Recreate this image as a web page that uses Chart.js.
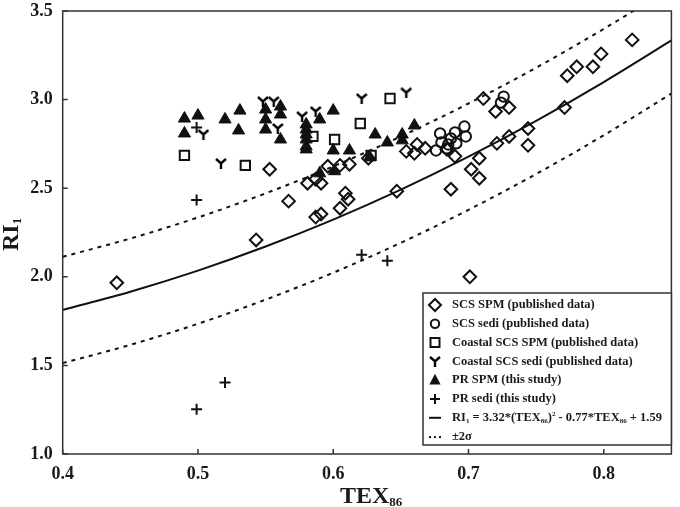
<!DOCTYPE html>
<html><head><meta charset="utf-8">
<script src="https://cdn.jsdelivr.net/npm/chart.js@4/dist/chart.umd.min.js"></script>
<style>html,body{margin:0;padding:0;background:#fff}#wrap{width:680px;height:507px;position:relative}</style>
</head><body><div id="wrap"><canvas id="c" width="680" height="507"></canvas></div>
<script>
// ---- tick values ----
const xTicks = [0.4, 0.5, 0.6, 0.7, 0.8];
const yTicks = [1.0, 1.5, 2.0, 2.5, 3.0, 3.5];

// ---- SCS SPM (published data) ----
const scsSpmX = [0.440,0.543,0.553,0.567,0.581,0.587,0.591,0.587,0.591,0.596,0.605,0.612,0.609,0.611,0.605,0.626,0.647,0.654,0.660,0.662,0.668,0.684,0.690,0.687,0.702,0.708,0.708,0.721,0.730,0.744,0.744,0.771,0.711,0.720,0.730,0.773,0.780,0.792,0.798,0.821,0.701];
const scsSpmY = [1.966,2.208,2.607,2.427,2.528,2.551,2.528,2.337,2.354,2.624,2.629,2.635,2.472,2.438,2.387,2.669,2.483,2.708,2.697,2.747,2.725,2.719,2.680,2.494,2.607,2.556,2.669,2.753,2.792,2.837,2.742,2.955,3.006,2.933,2.955,3.135,3.185,3.185,3.258,3.337,2.000];
// ---- SCS sedi (published data) ----
const scsSediX = [0.679,0.690,0.697,0.698,0.687,0.680,0.691,0.685,0.676,0.684,0.726,0.724];
const scsSediY = [2.809,2.815,2.848,2.792,2.781,2.758,2.753,2.747,2.713,2.725,3.017,2.983];
// ---- Coastal SCS SPM (published data) ----
const cstSpmX = [0.490,0.535,0.585,0.601,0.620,0.642,0.628];
const cstSpmY = [2.685,2.629,2.792,2.775,2.865,3.006,2.685];
// ---- Coastal SCS sedi (published data) ----
const cstSediX = [0.504,0.517,0.548,0.556,0.559,0.577,0.587,0.621,0.654];
const cstSediY = [2.803,2.640,2.989,2.989,2.837,2.904,2.933,3.006,3.039];
// ---- PR SPM (this study) ----
const prSpmX = [0.490,0.500,0.490,0.520,0.531,0.530,0.550,0.550,0.550,0.561,0.561,0.561,0.580,0.580,0.580,0.580,0.580,0.580,0.590,0.600,0.600,0.612,0.601,0.590,0.631,0.640,0.651,0.651,0.660,0.627];
const prSpmY = [2.893,2.910,2.809,2.888,2.938,2.826,2.944,2.888,2.831,2.961,2.916,2.775,2.860,2.831,2.803,2.775,2.736,2.719,2.888,2.938,2.713,2.713,2.596,2.584,2.803,2.758,2.803,2.770,2.854,2.674];
// ---- PR sedi (this study) ----
const prSediX = [0.499,0.499,0.499,0.520,0.621,0.640];
const prSediY = [2.843,2.433,1.253,1.404,2.124,2.090];
// ---- fit curve RI1 = 3.32*TEX^2 - 0.77*TEX + 1.59 and +-2 sigma ----
const fitX   = [0.40,0.45,0.50,0.55,0.60,0.65,0.70,0.75,0.80,0.85];
const fitY   = [1.813,1.916,2.035,2.171,2.323,2.492,2.678,2.880,3.099,3.334];
const upperY = [2.113,2.216,2.335,2.471,2.623,2.792,2.978,3.180,3.399,3.634];
const lowerY = [1.513,1.616,1.735,1.871,2.023,2.192,2.378,2.580,2.799,3.034];

const legendLabels = ['SCS SPM (published data)','SCS sedi (published data)','Coastal SCS SPM (published data)','Coastal SCS sedi (published data)','PR SPM (this study)','PR sedi (this study)'];

const INK = '#111';
const SERIF = '"Liberation Serif","Times New Roman",serif';
const pts = (xs, ys) => xs.map((v, i) => ({x: v, y: ys[i]}));

function makeY(w, h, lw) {
  const c = document.createElement('canvas');
  c.width = w; c.height = h;
  const g = c.getContext('2d');
  g.strokeStyle = '#000'; g.lineWidth = lw; g.lineCap = 'butt';
  const m = w / 2, j = h * 0.5;
  g.beginPath();
  g.moveTo(1, 1); g.lineTo(m, j); g.lineTo(w - 1, 1);
  g.moveTo(m, j); g.lineTo(m, h);
  g.stroke();
  return c;
}
const yImg = makeY(12, 11, 2.4);

const scatterBase = {borderColor: INK, backgroundColor: 'rgba(0,0,0,0)', borderWidth: 2, showLine: false};

const datasets = [
  Object.assign({}, scatterBase, {label: legendLabels[0], data: pts(scsSpmX, scsSpmY), pointStyle: 'rectRot', pointRadius: 6.3}),
  Object.assign({}, scatterBase, {label: legendLabels[1], data: pts(scsSediX, scsSediY), pointStyle: 'circle', pointRadius: 5.2}),
  Object.assign({}, scatterBase, {label: legendLabels[2], data: pts(cstSpmX, cstSpmY), pointStyle: 'rect', pointRadius: 6.6}),
  Object.assign({}, scatterBase, {label: legendLabels[3], data: pts(cstSediX, cstSediY), pointStyle: yImg, pointRadius: 5}),
  Object.assign({}, scatterBase, {label: legendLabels[4], data: pts(prSpmX, prSpmY), pointStyle: 'triangle', pointRadius: 7, backgroundColor: INK, borderWidth: 1}),
  Object.assign({}, scatterBase, {label: legendLabels[5], data: pts(prSediX, prSediY), pointStyle: 'cross', pointRadius: 5.5, borderWidth: 2}),
  {label: 'fit', data: pts(fitX, fitY), showLine: true, pointRadius: 0, borderColor: INK, borderWidth: 2, cubicInterpolationMode: 'monotone', order: 5},
  {label: 'upper', data: pts(fitX, upperY), showLine: true, pointRadius: 0, borderColor: INK, borderWidth: 2, borderDash: [4, 5], cubicInterpolationMode: 'monotone', order: 5},
  {label: 'lower', data: pts(fitX, lowerY), showLine: true, pointRadius: 0, borderColor: INK, borderWidth: 2, borderDash: [4, 5], cubicInterpolationMode: 'monotone', order: 5}
];

function drawSegs(ctx, x, y, segs) {
  // segs: [text, size, dy]
  segs.forEach(s => {
    ctx.font = 'bold ' + s[1] + 'px ' + SERIF;
    ctx.fillText(s[0], x, y + s[2]);
    x += ctx.measureText(s[0]).width;
  });
  return x;
}

const decor = {
  id: 'decor',
  afterDraw(chart) {
    const {ctx, chartArea: a, scales: {x, y}} = chart;
    ctx.save();
    // frame
    ctx.strokeStyle = '#333'; ctx.lineWidth = 1.5;
    ctx.strokeRect(a.left, a.top, a.right - a.left, a.bottom - a.top);
    // inward ticks
    ctx.beginPath();
    xTicks.forEach(v => { const p = x.getPixelForValue(v); ctx.moveTo(p, a.bottom); ctx.lineTo(p, a.bottom - 5); });
    yTicks.forEach(v => { const p = y.getPixelForValue(v); ctx.moveTo(a.left, p); ctx.lineTo(a.left + 5, p); });
    ctx.stroke();

    // axis titles
    ctx.fillStyle = '#1a1a1a';
    ctx.textBaseline = 'alphabetic'; ctx.textAlign = 'left';
    drawSegs(ctx, 340, 503, [['TEX', 24, 0], ['86', 13, 3]]);
    ctx.save();
    ctx.translate(18, 251); ctx.rotate(-Math.PI / 2);
    drawSegs(ctx, 0, 0, [['RI', 24, 0], ['1', 13, 3]]);
    ctx.restore();

    // legend
    const bx = 423, by = 293, bw = a.right - 423, bh = 152;
    ctx.fillStyle = '#fff'; ctx.fillRect(bx, by, bw, bh);
    ctx.strokeStyle = '#333'; ctx.lineWidth = 1.5; ctx.strokeRect(bx, by, bw, bh);
    const mx = 435, tx = 452, y0 = 305, dy = 18.8;
    ctx.textBaseline = 'middle';
    ctx.strokeStyle = INK; ctx.fillStyle = INK;
    for (let i = 0; i < 8; i++) {
      const cy = y0 + i * dy;
      ctx.lineWidth = 2;
      ctx.beginPath();
      if (i === 0) { const r = 6; ctx.moveTo(mx - r, cy); ctx.lineTo(mx, cy - r); ctx.lineTo(mx + r, cy); ctx.lineTo(mx, cy + r); ctx.closePath(); ctx.stroke(); }
      else if (i === 1) { ctx.arc(mx, cy, 4.2, 0, Math.PI * 2); ctx.stroke(); }
      else if (i === 2) { ctx.rect(mx - 4.5, cy - 4.5, 9, 9); ctx.stroke(); }
      else if (i === 3) { ctx.drawImage(yImg, mx - 6, cy - 5.5); }
      else if (i === 4) { const r = 6.5; ctx.moveTo(mx, cy - r); ctx.lineTo(mx + r * 0.866, cy + r * 0.5 + 1); ctx.lineTo(mx - r * 0.866, cy + r * 0.5 + 1); ctx.closePath(); ctx.fill(); }
      else if (i === 5) { ctx.moveTo(mx - 5, cy); ctx.lineTo(mx + 5, cy); ctx.moveTo(mx, cy - 5); ctx.lineTo(mx, cy + 5); ctx.stroke(); }
      else if (i === 6) { ctx.moveTo(mx - 6, cy); ctx.lineTo(mx + 6, cy); ctx.stroke(); }
      else { [-5, 0, 5].forEach(d => ctx.fillRect(mx + d - 1, cy - 0.5, 2, 2)); }
      ctx.fillStyle = '#1a1a1a';
      if (i < 6) {
        ctx.font = 'bold 12.5px ' + SERIF;
        ctx.fillText(legendLabels[i], tx, cy);
      } else if (i === 6) {
        drawSegs(ctx, tx, cy, [['RI', 12.5, 0], ['1', 7, 3], [' = 3.32*(TEX', 12.5, 0], ['86', 7, 3], [')', 12.5, 0], ['2', 7, -4], [' - 0.77*TEX', 12.5, 0], ['86', 7, 3], [' + 1.59', 12.5, 0]]);
      } else {
        ctx.font = 'bold 12.5px ' + SERIF;
        ctx.fillText('\u00b12\u03c3', tx, cy);
      }
      ctx.fillStyle = INK;
    }
    ctx.restore();
  }
};

const tickFont = {family: SERIF, weight: 'bold', size: 18, lineHeight: 1};

new Chart(document.getElementById('c'), {
  type: 'scatter',
  data: {datasets},
  options: {
    responsive: false,
    animation: false,
    devicePixelRatio: 1,
    layout: {padding: {top: 0, right: 3, left: 0, bottom: 0}},
    plugins: {legend: {display: false}, tooltip: {enabled: false}},
    scales: {
      x: {
        type: 'linear', min: 0.4, max: 0.85,
        afterBuildTicks: s => { s.ticks = xTicks.map(v => ({value: v})); },
        afterFit: s => { s.height = 53; },
        grid: {display: false}, border: {display: false},
        ticks: {font: tickFont, color: '#1a1a1a', padding: 3, maxRotation: 0, autoSkip: false, callback: v => Number(v).toFixed(1)}
      },
      y: {
        type: 'linear', min: 1.0, max: 3.5,
        afterBuildTicks: s => { s.ticks = yTicks.map(v => ({value: v})); },
        afterFit: s => { s.width = 62.7; },
        grid: {display: false}, border: {display: false},
        ticks: {font: tickFont, color: '#1a1a1a', padding: 2, autoSkip: false, callback: v => Number(v).toFixed(1)}
      }
    }
  },
  plugins: [decor]
});
</script>
</body></html>
